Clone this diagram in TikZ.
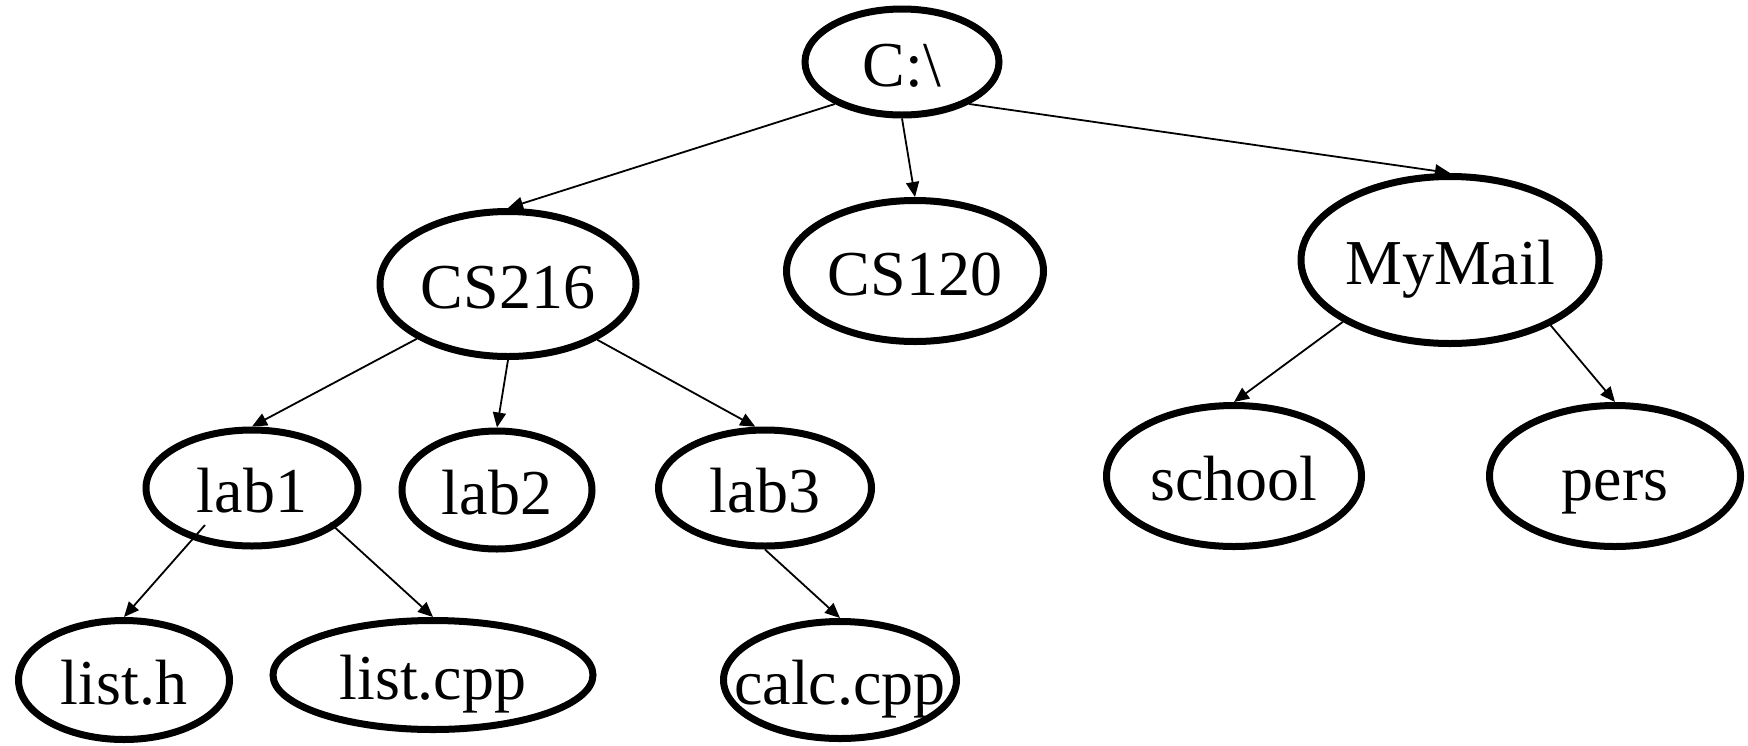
\documentclass[tikz,border=0pt]{standalone}
\usepackage{fontspec}
\setmainfont{Liberation Serif}
\usetikzlibrary{shapes.geometric,arrows.meta,calc}
\begin{document}
\begin{tikzpicture}[x=1pt,y=-1pt,
  dirnode/.style={ellipse, draw, line width=7pt, inner sep=0pt,
    text height=48pt, text depth=0pt, font=\fontsize{64}{70}\selectfont},
  link/.style={line width=1.8pt, -{Triangle[length=15pt,width=13pt]}}]
\useasboundingbox (0,0) rectangle (1748,745);

% directory tree: root, first level, second level, files
\node[dirnode, minimum width=194pt, minimum height=106pt] (root)    at (902,62)   {\makebox[0pt]{C:\textbackslash}};
\node[dirnode, minimum width=256pt, minimum height=145pt] (cs216)   at (508,284)  {\makebox[0pt]{CS216}};
\node[dirnode, minimum width=257pt, minimum height=141pt] (cs120)   at (915,271)  {\makebox[0pt]{CS120}};
\node[dirnode, minimum width=298pt, minimum height=167pt] (mymail)  at (1450,260) {\makebox[0pt]{MyMail}};
\node[dirnode, minimum width=212pt, minimum height=116pt] (lab1)    at (252,488)  {\makebox[0pt]{lab1}};
\node[dirnode, minimum width=190pt, minimum height=118pt] (lab2)    at (497,490)  {\makebox[0pt]{lab2}};
\node[dirnode, minimum width=213pt, minimum height=116pt] (lab3)    at (765,488)  {\makebox[0pt]{lab3}};
\node[dirnode, minimum width=255pt, minimum height=141pt] (school)  at (1234,476) {\makebox[0pt]{school}};
\node[dirnode, minimum width=251pt, minimum height=141pt] (pers)    at (1615,476) {\makebox[0pt]{pers}};
\node[dirnode, minimum width=211pt, minimum height=119pt] (listh)   at (124,680)  {\makebox[0pt]{list.h}};
\node[dirnode, minimum width=320pt, minimum height=109pt] (listcpp) at (433,675)  {\makebox[0pt]{list.cpp}};
\node[dirnode, minimum width=233pt, minimum height=117pt] (calccpp) at (840,680)  {\makebox[0pt]{calc.cpp}};

% connectors
\draw[link] (root.212.5) -- (cs216.north);
\draw[link] (root.270) -- (cs120.north);
\draw[link] (root.328.4) -- (mymail.north);
\draw[link] (cs216.211.6) -- (lab1.north);
\draw[link] (cs216.270) -- (lab2.north);
\draw[link] (cs216.328.7) -- (lab3.99);
\draw[link] ($(lab1.center)+(-47,37)$) -- (listh.north);
\draw[link] ($(lab1.center)+(78,35)$) -- (listcpp.north);
\draw[link] (lab3.south) -- (calccpp.north);
\draw[link] (mymail.210.6) -- (school.north);
\draw[link] (mymail.327.7) -- (pers.north);
\end{tikzpicture}
\end{document}
